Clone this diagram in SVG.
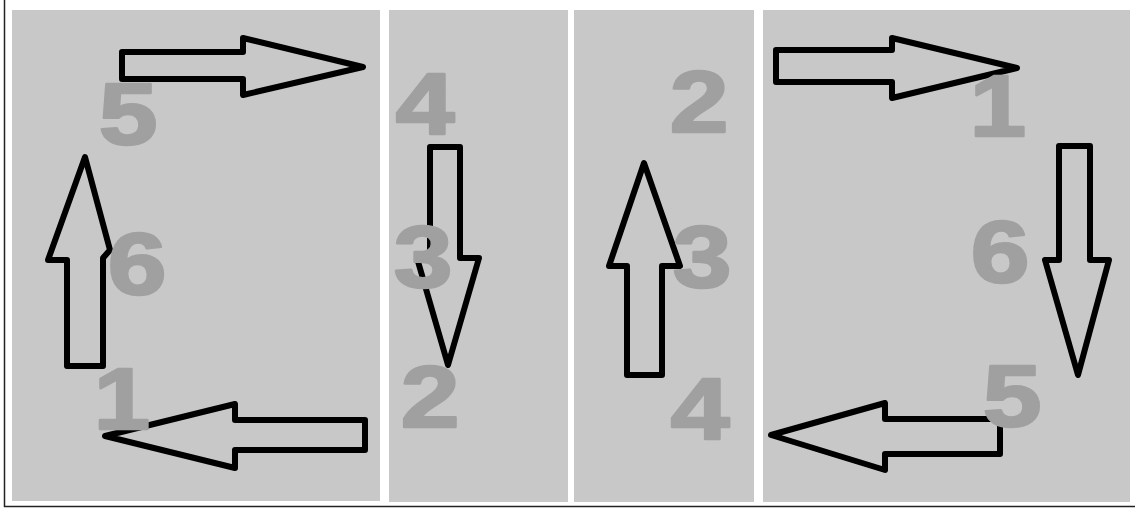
<svg xmlns="http://www.w3.org/2000/svg" width="1135" height="508" viewBox="0 0 1135 508">
<style>
.panel{fill:#c8c8c8}
.arrow{fill:none;stroke:#000;stroke-width:6;stroke-linejoin:round}
.num{font-family:"Liberation Sans",Arial,sans-serif;font-weight:bold;font-size:88px;fill:#a0a0a0;stroke:#a0a0a0;stroke-width:2.5;stroke-linejoin:round;text-anchor:middle}
</style>
<rect x="0" y="0" width="1135" height="508" fill="#fff"/>
<path d="M4.5,0 V506.5 H1135" fill="none" stroke="#222" stroke-width="1.5"/>
<g id="panel1"><rect class="panel" x="12" y="10" width="368" height="491"/></g>
<g id="panel2"><rect class="panel" x="389" y="10" width="179" height="492"/></g>
<g id="panel3"><rect class="panel" x="574" y="10" width="180" height="492"/></g>
<g id="panel4"><rect class="panel" x="763" y="10" width="367" height="492"/></g>
<g id="connectors">
<polygon class="arrow" points="122,52 243,52 243,38 363,67 243,95 243,79 122,79"/>
<polygon class="arrow" points="85,157 110,250 103,258 103,366 67,366 67,260 48,260"/>
<polygon class="arrow" points="105,436 235,404 235,420 365,420 365,450 235,450 235,468"/>
<polygon class="arrow" points="430,147 460,147 460,258 479,258 448,365 417,258 430,258"/>
<polygon class="arrow" points="644,163 680,266 662,266 662,375 627,375 627,266 609,266"/>
<polygon class="arrow" points="776,50 892,50 892,38 1017,68 892,98 892,82 776,82"/>
<polygon class="arrow" points="1059,146 1090,146 1090,260 1109,260 1078,375 1045,260 1059,260"/>
<polygon class="arrow" points="771,435 885,403 885,419 1000,419 1000,454 885,454 885,470"/>
</g>
<g id="labels">
<g id="n-p1-5"><text class="num" transform="translate(128,144) scale(1.2,1)">5</text></g>
<g id="n-p1-6"><text class="num" transform="translate(137,294) scale(1.2,1)">6</text></g>
<g id="n-p1-1"><text class="num" transform="translate(122,429) scale(1.15,1)">1</text></g>
<g id="n-p2-4"><text class="num" transform="translate(425,134) scale(1.2,1)">4</text></g>
<g id="n-p2-3"><text class="num" transform="translate(423,287) scale(1.2,1)">3</text></g>
<g id="n-p2-2"><text class="num" transform="translate(430,427) scale(1.2,1)">2</text></g>
<g id="n-p3-2"><text class="num" transform="translate(699,132) scale(1.2,1)">2</text></g>
<g id="n-p3-3"><text class="num" transform="translate(702,287) scale(1.2,1)">3</text></g>
<g id="n-p3-4"><text class="num" transform="translate(700,439) scale(1.2,1)">4</text></g>
<g id="n-p4-1"><text class="num" transform="translate(998,136) scale(1.15,1)">1</text></g>
<g id="n-p4-6"><text class="num" transform="translate(1000,282) scale(1.2,1)">6</text></g>
<g id="n-p4-5"><text class="num" transform="translate(1012,426) scale(1.2,1)">5</text></g>
</g>
</svg>
